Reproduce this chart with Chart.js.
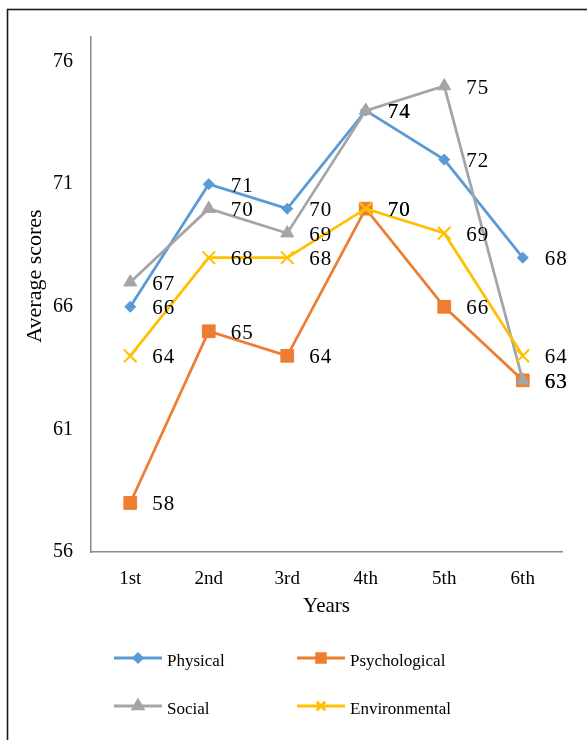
<!DOCTYPE html>
<html>
<head>
<meta charset="utf-8">
<script src="https://cdn.jsdelivr.net/npm/chart.js@4.4.1/dist/chart.umd.min.js"></script>
<style>
  html, body { margin: 0; padding: 0; background: #ffffff; }
  #wrap { width: 587px; height: 740px; position: relative; }
</style>
</head>
<body>
<div id="wrap"><canvas id="c" width="587" height="740"></canvas></div>
<script>
// Average domain scores by study year
const years = ['1st', '2nd', '3rd', '4th', '5th', '6th'];
const physical = [66, 71, 70, 74, 72, 68];
const psychological = [58, 65, 64, 70, 66, 63];
const social = [67, 70, 69, 74, 75, 63];
const environmental = [64, 68, 68, 70, 69, 64];
const seriesNames = ['Physical', 'Psychological', 'Social', 'Environmental'];
const yTicks = [56, 61, 66, 71, 76];
const xTitle = 'Years';
const yTitle = 'Average scores';

const SERIF = '"Liberation Serif", "Times New Roman", serif';
const COLORS = ['#5B9BD5', '#ED7D31', '#A5A5A5', '#FFC000'];
const STYLES = [
  { pointStyle: 'rectRot', radius: 5.5, legendRadius: 4, bw: 1 },
  { pointStyle: 'rect', radius: 9, legendRadius: 6, bw: 1 },
  { pointStyle: 'triangle', radius: 7.5, legendRadius: 5.5, bw: 1 },
  { pointStyle: 'crossRot', radius: 9, legendRadius: 6, bw: 2 }
];
const seriesValues = [physical, psychological, social, environmental];

const datasets = seriesValues.map((vals, i) => ({
  label: seriesNames[i],
  data: vals,
  borderColor: COLORS[i],
  backgroundColor: COLORS[i],
  borderWidth: 2.75,
  tension: 0,
  fill: false,
  pointStyle: STYLES[i].pointStyle,
  pointRadius: STYLES[i].radius,
  pointHoverRadius: STYLES[i].radius,
  pointBackgroundColor: COLORS[i],
  pointBorderColor: COLORS[i],
  pointBorderWidth: STYLES[i].bw,
  // later series are painted over earlier ones
  order: seriesValues.length - i
}));

const decor = {
  id: 'decor',
  beforeDraw(chart) {
    const ctx = chart.ctx;
    ctx.save();
    ctx.fillStyle = '#ffffff';
    ctx.fillRect(0, 0, chart.width, chart.height);
    ctx.strokeStyle = '#1a1a1a';
    ctx.lineWidth = 1.6;
    ctx.strokeRect(7.5, 9.5, 640, 800);
    ctx.restore();
  },
  afterDatasetsDraw(chart) {
    const ctx = chart.ctx;
    ctx.save();
    ctx.font = '21px ' + SERIF;
    if ('letterSpacing' in ctx) ctx.letterSpacing = '1px';
    ctx.fillStyle = '#000000';
    ctx.textAlign = 'left';
    ctx.textBaseline = 'middle';
    chart.data.datasets.forEach((ds, i) => {
      const meta = chart.getDatasetMeta(i);
      meta.data.forEach((pt, j) => {
        ctx.fillText(String(ds.data[j]), pt.x + 22, pt.y + 2);
      });
    });
    ctx.restore();
  },
  afterDraw(chart) {
    const ctx = chart.ctx;
    const area = chart.chartArea;
    ctx.save();
    ctx.fillStyle = '#000000';
    ctx.textAlign = 'center';
    ctx.textBaseline = 'middle';
    // axis titles
    ctx.font = '21px ' + SERIF;
    ctx.fillText(xTitle, (area.left + area.right) / 2, 606);
    ctx.save();
    ctx.translate(35, 276);
    ctx.rotate(-Math.PI / 2);
    ctx.font = '22px ' + SERIF;
    ctx.fillText(yTitle, 0, 0);
    ctx.restore();

    // legend in two columns
    const colX = [114, 297];
    const rowY = [658, 706];
    ctx.font = '17px ' + SERIF;
    ctx.textAlign = 'left';
    chart.data.datasets.forEach((ds, i) => {
      const x0 = colX[i % 2];
      const y0 = rowY[Math.floor(i / 2)];
      ctx.strokeStyle = ds.borderColor;
      ctx.lineWidth = 3;
      ctx.beginPath();
      ctx.moveTo(x0, y0);
      ctx.lineTo(x0 + 48, y0);
      ctx.stroke();
      ctx.fillStyle = ds.borderColor;
      ctx.strokeStyle = ds.borderColor;
      Chart.helpers.drawPoint(ctx, {
        pointStyle: STYLES[i].pointStyle,
        radius: STYLES[i].legendRadius,
        rotation: 0,
        borderWidth: STYLES[i].bw
      }, x0 + 24, y0);
      ctx.fillStyle = '#000000';
      ctx.fillText(ds.label, x0 + 53, y0 + 4);
    });
    ctx.restore();
  }
};

new Chart(document.getElementById('c'), {
  type: 'line',
  data: { labels: years, datasets: datasets },
  options: {
    responsive: false,
    animation: false,
    devicePixelRatio: 1,
    layout: { padding: { top: 37, right: 25, left: 0, bottom: 0 } },
    plugins: {
      legend: { display: false },
      tooltip: { enabled: false }
    },
    scales: {
      x: {
        type: 'category',
        offset: true,
        grid: { display: false, drawTicks: false },
        border: { display: true, color: '#8a8a8a', width: 1.5 },
        ticks: {
          color: '#000000',
          font: { family: SERIF, size: 19 },
          padding: 16,
          maxRotation: 0
        },
        afterFit(scale) { scale.height = 740 - 552; }
      },
      y: {
        min: 56,
        max: 77,
        grid: { display: false, drawTicks: false },
        border: { display: true, color: '#8a8a8a', width: 1.5 },
        ticks: {
          color: '#000000',
          font: { family: SERIF, size: 20 },
          padding: 18
        },
        afterBuildTicks(scale) { scale.ticks = yTicks.map(v => ({ value: v })); },
        afterFit(scale) { scale.width = 91; }
      }
    }
  },
  plugins: [decor]
});
</script>
</body>
</html>
